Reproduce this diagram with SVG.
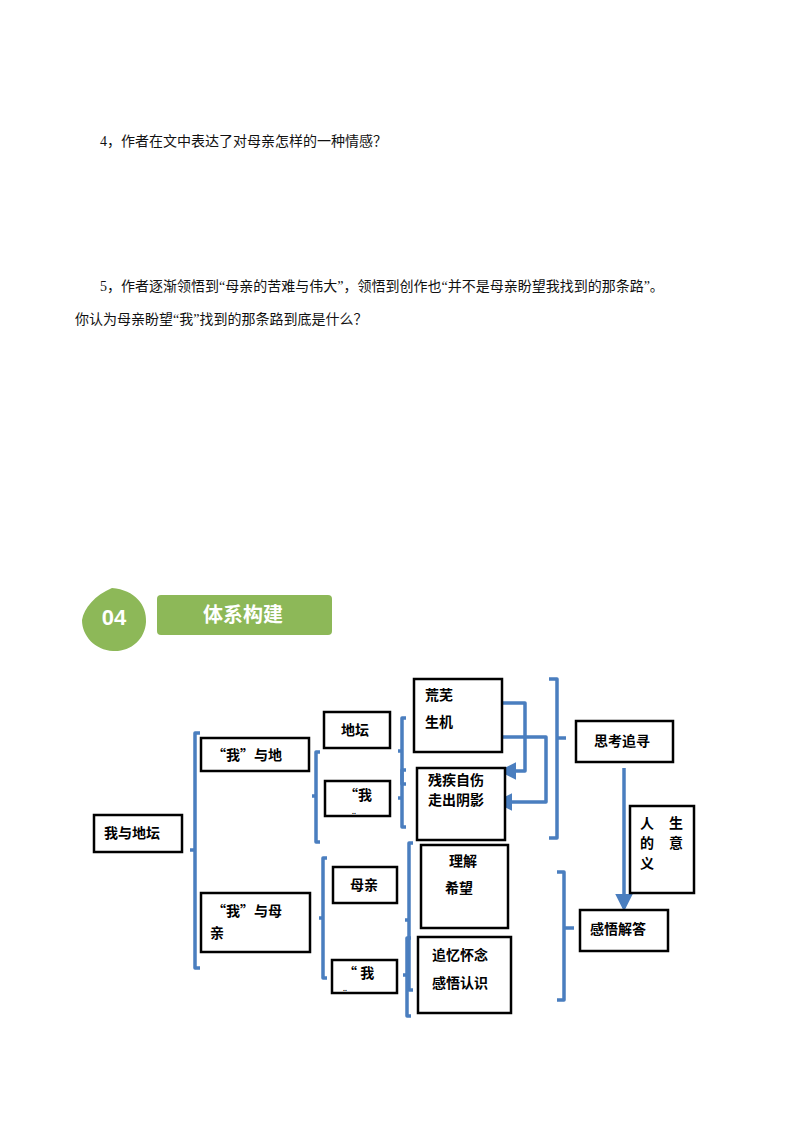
<svg xmlns="http://www.w3.org/2000/svg" width="800" height="1132" viewBox="0 0 800 1132">
<style>
.t{font-family:"Liberation Serif","Noto Sans CJK SC",serif;font-size:14px;fill:#111}
.b{font-family:"Noto Sans CJK SC",sans-serif;font-size:14px;font-weight:bold;fill:#000}
.d{font-family:"Liberation Sans",sans-serif;font-size:7px;font-weight:bold;fill:#000}
.box{fill:#fff;stroke:#000;stroke-width:2.5}
.bl{fill:none;stroke:#4a7ebf;stroke-width:3.5;stroke-linejoin:round}
</style>
<defs><marker id="ah" markerWidth="5" markerHeight="5" refX="4" refY="2.5" orient="auto"><path d="M0,0L5,2.5L0,5z" fill="#4a7ebf"/></marker></defs>
<rect width="800" height="1132" fill="#fff"/>
<text class="t" x="100" y="146">4，作者在文中表达了对母亲怎样的一种情感？</text>
<text class="t" x="100" y="291">5，作者逐渐领悟到“母亲的苦难与伟大”，领悟到创作也“并不是母亲盼望我找到的那条路”。</text>
<text class="t" x="75" y="324">你认为母亲盼望“我”找到的那条路到底是什么？</text>
<g id="header">
<path d="M112,588 C135,590 147,605 146,622 C145,640 130,652 113,651 C95,650 82,636 82,620 C84,608 95,595 112,588z" fill="#8db858"/>
<text x="114" y="625" text-anchor="middle" font-family="Liberation Sans,sans-serif" font-weight="bold" font-size="22" fill="#fff">04</text>
<rect x="157" y="595" width="175" height="40" rx="4" fill="#8db858"/>
<text x="243" y="622" text-anchor="middle" font-family="Noto Sans CJK SC,sans-serif" font-weight="bold" font-size="20" fill="#fff">体系构建</text>
</g>
<g id="connectors">
<path class="bl" d="M200,733 H195 V968 H200 M195,850 H190"/>
<path class="bl" d="M320,752 H316 V842 H320 M316,796 H312"/>
<path class="bl" d="M327,858 H323 V978 H327 M323,918 H319"/>
<path class="bl" d="M406,718 H402 V784 H406 M402,751 H398"/>
<path class="bl" d="M406,770 H402 V827 H406 M402,798 H398"/>
<path class="bl" d="M413,843 H409 V990 H413 M409,920 H405"/>
<path class="bl" d="M411,938 H407 V1016 H411 M407,975 H403"/>
<path class="bl" d="M549,679 H557 V838 H549 M557,738 H566"/>
<path class="bl" d="M557,872 H564 V1000 H557 M564,928 H574"/>
<path class="bl" d="M470,703 H525 V771 H502" marker-end="url(#ah)"/>
<path class="bl" d="M483,737 H546 V802 H498" marker-end="url(#ah)"/>
<path class="bl" d="M624,768 V908" marker-end="url(#ah)"/>
</g>
<g id="n1"><rect class="box" x="94" y="815" width="88" height="37"/><text class="b" x="104" y="838">我与地坛</text></g>
<g id="n2"><rect class="box" x="201" y="738" width="108" height="33"/><text class="b" x="212" y="760">“我”与地</text></g>
<g id="n3"><rect class="box" x="201" y="893" width="109" height="59"/><text class="b" x="212" y="916">“我”与母</text><text class="b" x="210" y="938">亲</text></g>
<g id="n4"><rect class="box" x="324" y="712" width="66" height="36"/><text class="b" x="341" y="735">地坛</text></g>
<g id="n5"><rect class="box" x="325" y="781" width="65" height="35"/><text class="b" x="344" y="800">“我</text><text class="d" x="352" y="814">..</text></g>
<g id="n6"><rect class="box" x="333" y="867" width="64" height="36"/><text class="b" x="350" y="890">母亲</text></g>
<g id="n7"><rect class="box" x="332" y="960" width="65" height="33"/><text class="b" x="343" y="978">“ 我</text><text class="d" x="343" y="991">..</text></g>
<g id="n8"><rect class="box" x="414" y="679" width="88" height="73"/><text class="b" x="425" y="700">荒芜</text><text class="b" x="425" y="727">生机</text></g>
<g id="n9"><rect class="box" x="417" y="768" width="88" height="72"/><text class="b" x="428" y="785">残疾自伤</text><text class="b" x="428" y="805">走出阴影</text></g>
<g id="n10"><rect class="box" x="421" y="845" width="87" height="83"/><text class="b" x="449" y="866">理解</text><text class="b" x="445" y="893">希望</text></g>
<g id="n11"><rect class="box" x="418" y="937" width="93" height="76"/><text class="b" x="432" y="960">追忆怀念</text><text class="b" x="432" y="988">感悟认识</text></g>
<g id="n12"><rect class="box" x="576" y="721" width="97" height="41"/><text class="b" x="594" y="746">思考追寻</text></g>
<g id="n13"><rect class="box" x="630" y="806" width="64" height="87"/><text class="b" x="640" y="828">人</text><text class="b" x="669" y="828">生</text><text class="b" x="640" y="848">的</text><text class="b" x="669" y="848">意</text><text class="b" x="640" y="868">义</text></g>
<g id="n14"><rect class="box" x="580" y="910" width="88" height="41"/><text class="b" x="590" y="934">感悟解答</text></g>
</svg>
